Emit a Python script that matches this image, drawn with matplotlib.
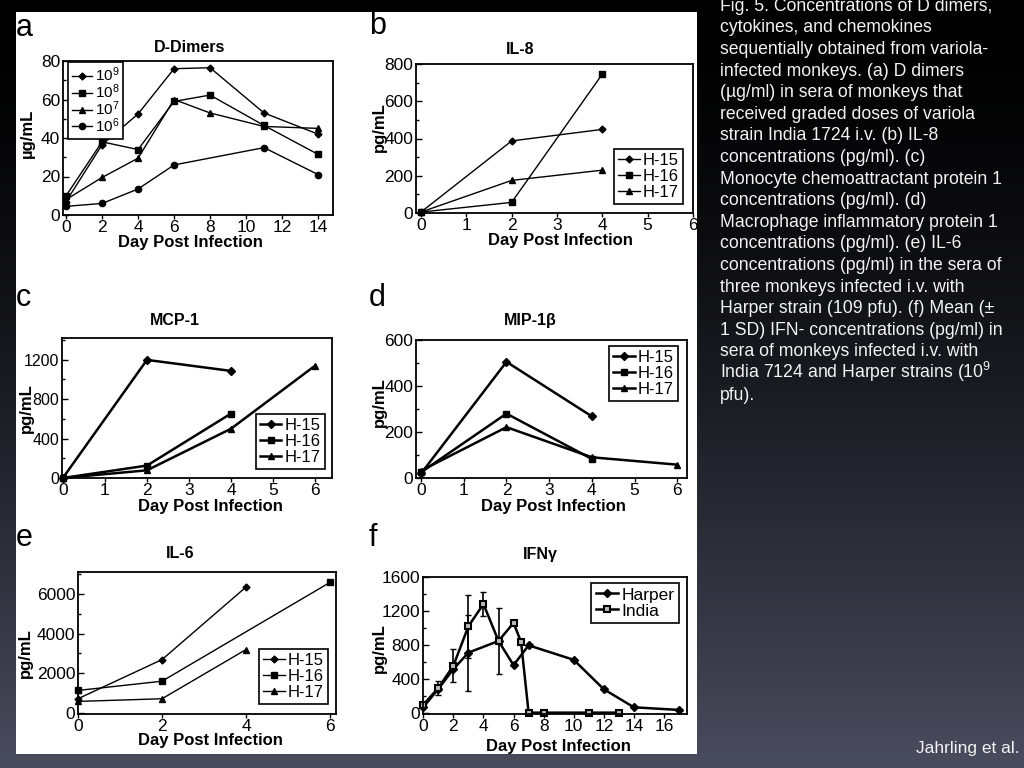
import matplotlib
matplotlib.use("Agg")
import matplotlib.pyplot as plt
import numpy as np
from matplotlib.patches import Rectangle
from matplotlib.ticker import AutoMinorLocator

plt.rcParams["font.family"] = ["Liberation Sans", "DejaVu Sans"]
plt.rcParams["mathtext.fontset"] = "custom"
plt.rcParams["mathtext.rm"] = "Liberation Sans"
plt.rcParams["mathtext.it"] = "Liberation Sans:italic"
plt.rcParams["mathtext.bf"] = "Liberation Sans:bold"

# (a) D-dimers, ug/mL
dd_days = [0, 2, 4, 6, 8, 11, 14]
dd_1e9 = [7, 36.5, 52.5, 76, 76.5, 53, 42]
dd_1e8 = [10, 38, 34, 59, 62.3, 46.5, 31.5]
dd_1e7 = [8, 19.5, 29.5, 60, 53, 46, 45]
dd_1e6_days = [0, 2, 4, 6, 11, 14]
dd_1e6 = [4.5, 6, 13.5, 26, 35, 21]

# (b) IL-8, pg/mL
il8_days = [0, 2, 4]
il8_h15 = [5, 387, 449]
il8_h16 = [5, 57, 746]
il8_h17 = [5, 175, 230]

# (c) MCP-1
mcp_days = [0, 2, 4]
mcp_h15 = [0, 1198, 1086]
mcp_h16 = [0, 126, 654]
mcp_h17_days = [0, 2, 4, 6]
mcp_h17 = [0, 78, 500, 1140]

# (d) MIP-1b
mip_days = [0, 2, 4]
mip_h15 = [20, 505, 268]
mip_h16 = [25, 280, 83]
mip_h17_days = [0, 2, 4, 6]
mip_h17 = [32, 221, 90, 58]

# (e) IL-6
il6_h15_days = [0, 2, 4]
il6_h15 = [705, 2685, 6353]
il6_h16_days = [0, 2, 6]
il6_h16 = [1124, 1592, 6588]
il6_h17_days = [0, 2, 4]
il6_h17 = [570, 705, 3193]

# (f) IFN-gamma, mean +/- SD
harper_days = [0, 1, 2, 3, 5, 6, 7, 10, 12, 14, 17]
harper = [66, 280, 514, 708, 845, 560, 794, 623, 276, 63, 32]
harper_sd = [0, 0, 0, 447, 390, 0, 0, 0, 0, 0, 0]
india_days = [0, 1, 2, 3, 4, 5, 6, 6.5, 7, 8, 11, 13]
india = [93, 292, 553, 1020, 1281, 845, 1059, 833, 0, 0, 0, 0]
india_sd = [0, 80, 195, 370, 140, 0, 0, 0, 0, 0, 0, 0]

caption = [
    "Fig. 5. Concentrations of D dimers,",
    "cytokines, and chemokines",
    "sequentially obtained from variola-",
    "infected monkeys. (a) D dimers",
    "(µg/ml) in sera of monkeys that",
    "received graded doses of variola",
    "strain India 1724 i.v. (b) IL-8",
    "concentrations (pg/ml). (c)",
    "Monocyte chemoattractant protein 1",
    "concentrations (pg/ml). (d)",
    "Macrophage inflammatory protein 1",
    "concentrations (pg/ml). (e) IL-6",
    "concentrations (pg/ml) in the sera of",
    "three monkeys infected i.v. with",
    "Harper strain (109 pfu). (f) Mean (±",
    "1 SD) IFN- concentrations (pg/ml) in",
    "sera of monkeys infected i.v. with",
    "India 7124 and Harper strains (10$^9$",
    "pfu).",
]

W, H = 1024, 768
fig = plt.figure(figsize=(10.24, 7.68), dpi=100)

# dark slide background + white figure area
bg = fig.add_axes([0, 0, 1, 1], zorder=-10)
shade = np.linspace(0, 1, 256) ** 1.5
img = shade[:, None, None] * np.array([0.29, 0.30, 0.37])[None, None, :]
bg.imshow(img, aspect="auto", extent=[0, 1, 0, 1])
bg.add_patch(Rectangle((16 / W, 1 - 754 / H), (697 - 16) / W, (754 - 12) / H,
                       facecolor="white", edgecolor="none"))
bg.set_xlim(0, 1)
bg.set_ylim(0, 1)
bg.set_axis_off()


def ftext(x, y, s, **kw):
    return fig.text(x / W, 1 - y / H, s, **kw)


def panel(left, top, right, bottom):
    return fig.add_axes([left / W, 1 - bottom / H, (right - left) / W, (bottom - top) / H])


def style(ax, xlim, ylim, xticks, yticks, ysize=12.5):
    ax.set_xlim(xlim)
    ax.set_ylim(ylim)
    ax.set_xticks(xticks)
    ax.set_yticks(yticks)
    ax.yaxis.set_minor_locator(AutoMinorLocator(2))
    ax.tick_params(axis="x", direction="out", length=3, width=1, labelsize=12.5,
                   pad=0.5, top=False)
    ax.tick_params(axis="y", which="both", direction="in", width=1, labelsize=ysize,
                   pad=2, right=False)
    ax.tick_params(axis="y", which="major", length=4)
    ax.tick_params(axis="y", which="minor", length=2.5)
    for s in ax.spines.values():
        s.set_linewidth(1.3)


def legend(ax, loc, anchor, size=12, spacing=0.05):
    leg = ax.legend(loc=loc, bbox_to_anchor=anchor, fontsize=size, frameon=True,
                    fancybox=False, edgecolor="black", framealpha=1, borderpad=0.25,
                    labelspacing=spacing, handlelength=1.3, handletextpad=0.2,
                    borderaxespad=0)
    leg.get_frame().set_linewidth(1.2)


def labels(letter, lx, ly, title, tx, ty, xl, xx, xy, yl, yx, yy):
    ftext(lx, ly, letter, fontsize=22, ha="left", va="center")
    ftext(tx, ty, title, fontsize=11.5, fontweight="bold", ha="center", va="center")
    ftext(xx, xy, xl, fontsize=12, fontweight="bold", ha="center", va="center")
    ftext(yx, yy, yl, fontsize=12, fontweight="bold", ha="center", va="center",
          rotation=90)


line = dict(color="black", clip_on=False)

# a
ax = panel(63, 61, 333, 215)
ax.plot(dd_days, dd_1e9, marker="D", ms=3.5, lw=1, label="$10^9$", **line)
ax.plot(dd_days, dd_1e8, marker="s", ms=4.5, lw=1, label="$10^8$", **line)
ax.plot(dd_days, dd_1e7, marker="^", ms=4.5, lw=1, label="$10^7$", **line)
ax.plot(dd_1e6_days, dd_1e6, marker="o", ms=4.5, lw=1, label="$10^6$", **line)
style(ax, (-0.17, 14.83), (0, 80), range(0, 15, 2), range(0, 81, 20))
legend(ax, "upper left", (0.018, 0.993), size=11, spacing=-0.12)
labels("a", 16, 28, "D-Dimers", 190, 47, "Day Post Infection", 190, 242,
       "µg/mL", 27, 133)

# b
ax = panel(416, 64, 693, 213)
ax.plot(il8_days, il8_h15, marker="D", ms=3.5, lw=1, label="H-15", **line)
ax.plot(il8_days, il8_h16, marker="s", ms=4.5, lw=1, label="H-16", **line)
ax.plot(il8_days, il8_h17, marker="^", ms=4.5, lw=1, label="H-17", **line)
style(ax, (-0.11, 6), (0, 800), range(0, 7), range(0, 801, 200))
legend(ax, "lower right", (0.964, 0.06))
labels("b", 369, 26, "IL-8", 520, 49, "Day Post Infection", 560, 240,
       "pg/mL", 379, 127)

# c
ax = panel(62, 338, 332, 478)
ax.plot(mcp_days, mcp_h15, marker="D", ms=4, lw=1.8, label="H-15", **line)
ax.plot(mcp_days, mcp_h16, marker="s", ms=4.5, lw=1.8, label="H-16", **line)
ax.plot(mcp_h17_days, mcp_h17, marker="^", ms=4.5, lw=1.8, label="H-17", **line)
style(ax, (-0.02, 6.4), (0, 1420), range(0, 7), range(0, 1201, 400), ysize=11.5)
legend(ax, "lower right", (0.974, 0.064))
labels("c", 16, 298, "MCP-1", 175, 320, "Day Post Infection", 210, 507,
       "pg/mL", 26, 408)

# d
ax = panel(416, 340, 687, 478)
ax.plot(mip_days, mip_h15, marker="D", ms=4, lw=1.8, label="H-15", **line)
ax.plot(mip_days, mip_h16, marker="s", ms=4.5, lw=1.8, label="H-16", **line)
ax.plot(mip_h17_days, mip_h17, marker="^", ms=4.5, lw=1.8, label="H-17", **line)
style(ax, (-0.12, 6.23), (0, 600), range(0, 7), range(0, 601, 200))
legend(ax, "upper right", (0.967, 0.957))
labels("d", 369, 298, "MIP-1β", 530, 320, "Day Post Infection", 553, 507,
       "pg/mL", 379, 402)

# e
ax = panel(78, 572, 336, 714)
ax.plot(il6_h15_days, il6_h15, marker="D", ms=3.5, lw=1, label="H-15", **line)
ax.plot(il6_h16_days, il6_h16, marker="s", ms=4.5, lw=1, label="H-16", **line)
ax.plot(il6_h17_days, il6_h17, marker="^", ms=4.5, lw=1, label="H-17", **line)
style(ax, (0, 6.14), (-66, 7110), [0, 2, 4, 6], range(0, 6001, 2000))
legend(ax, "lower right", (0.969, 0.07))
labels("e", 16, 538, "IL-6", 180, 553, "Day Post Infection", 210, 741,
       "pg/mL", 25, 653)

# f: error bars drawn apart so the legend shows plain line handles
ax = panel(423, 577, 687, 714)
ax.errorbar(harper_days, harper, yerr=harper_sd, fmt="none", ecolor="black",
            elinewidth=1.2, capsize=2.5, clip_on=False)
ax.errorbar(india_days, india, yerr=india_sd, fmt="none", ecolor="black",
            elinewidth=1.2, capsize=2.5, clip_on=False)
ax.plot(harper_days, harper, marker="D", ms=4, lw=1.8, label="Harper", **line)
ax.plot(india_days, india, marker="s", ms=4.5, mfc="#bbbbbb", mew=1.5, lw=1.8,
        label="India", **line)
style(ax, (-0.02, 17.53), (-16, 1600), range(0, 17, 2), range(0, 1601, 400))
legend(ax, "upper right", (0.97, 0.956), size=12.5)
labels("f", 369, 538, "IFNγ", 540, 555, "Day Post Infection", 558, 746,
       "pg/mL", 379, 648)

# caption on the right
for i, txt in enumerate(caption):
    ftext(720, 10.7 + 21.6 * i, txt, fontsize=12.7, color="#f2f2f2",
          ha="left", va="baseline")
ftext(1020, 748, "Jahrling et al.", fontsize=12.5, color="#f2f2f2",
      ha="right", va="center")

fig.savefig("out.png", dpi=100)
